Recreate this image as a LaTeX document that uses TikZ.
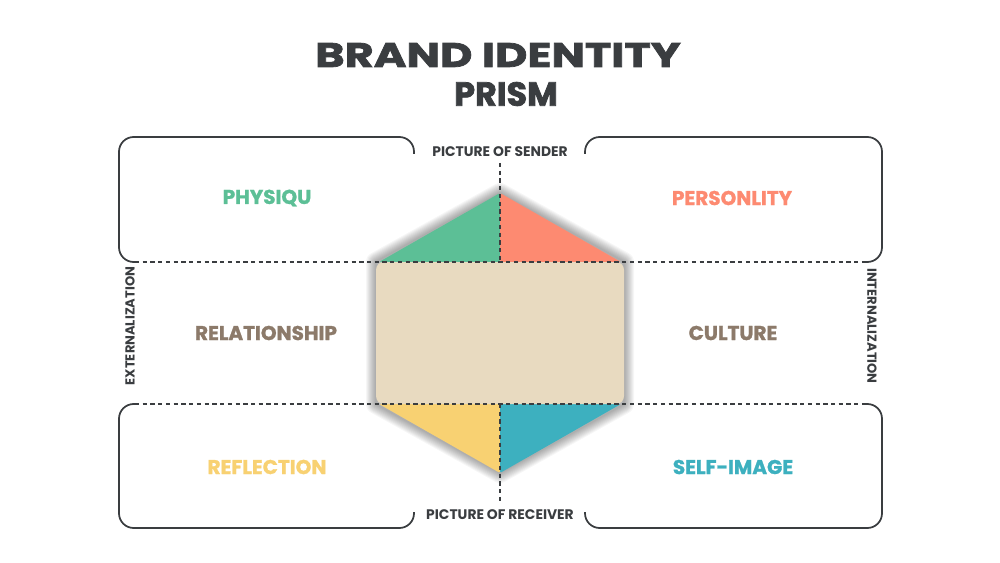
\documentclass[tikz,border=0pt]{standalone}
\usepackage{fontspec}
\setmainfont{Poppins}
\newfontfamily\titlefont{Poppins}[UprightFont=* Bold,BoldFont=* Bold,FakeBold=2.2,FakeStretch=1.31]
\newfontfamily\titlefontb{Poppins}[UprightFont=* Bold,BoldFont=* Bold,FakeBold=2.2,FakeStretch=1.0]
\newfontfamily\labfont{Poppins}[UprightFont=* Bold,BoldFont=* Bold,FakeBold=1.2]
\definecolor{ink}{HTML}{3A3D40}
\definecolor{cgreen}{HTML}{5CBF96}
\definecolor{csalmon}{HTML}{FD8A71}
\definecolor{cbeige}{HTML}{E8DAC0}
\definecolor{cyellow}{HTML}{F8D172}
\definecolor{cteal}{HTML}{3DB0BF}
\definecolor{cbrown}{HTML}{8C7A6A}
\begin{document}
\begin{tikzpicture}[x=0.75pt,y=-0.75pt,
  frame/.style={draw=ink,line width=1.3pt,rounded corners=11pt},
  dashline/.style={draw=ink,line width=0.9pt,dash pattern=on 3.2pt off 2.6pt},
  lab/.style={font=\fontsize{15}{15}\selectfont\labfont,inner sep=0pt},
  small/.style={font=\fontsize{10.4}{11}\selectfont\bfseries,text=ink,inner sep=0pt},
  side/.style={font=\fontsize{9.8}{10}\selectfont\bfseries,text=ink,inner sep=0pt},
  titletext/.style={font=\fontsize{25.5}{26}\selectfont\titlefont,text=ink,inner sep=0pt},
  titletextb/.style={font=\fontsize{25}{26}\selectfont\titlefontb,text=ink,inner sep=0pt}]
\useasboundingbox (0,0) rectangle (1000,563);
\fill[white] (0,0) rectangle (1000,563);
% title
\node[titletext] (t1) at (498,55) {BRAND IDENTITY};
\node[titletextb] (t2) at (506,94) {PRISM};
% frames
\draw[frame] (414,154) -- (414,137) -- (119,137) -- (119,262) -- (135,262);
\draw[frame] (865,262) -- (882,262) -- (882,137) -- (585,137) -- (585,154);
\draw[frame] (135,404) -- (119,404) -- (119,528) -- (414,528) -- (414,512);
\draw[frame] (585,512) -- (585,528) -- (882,528) -- (882,404) -- (865,404);
% hexagon shadow
\foreach \w in {1,2,...,10}{
  \draw[black,draw opacity=0.035,line width=\w*1.5pt,line join=round]
    (500,193) -- (624,262) -- (624,404) -- (500,473) -- (376,404) -- (376,262) -- cycle;
}
% hexagon pieces
\fill[cgreen,rounded corners=1.5pt] (500,193) -- (379,262) -- (500,262) -- cycle;
\fill[csalmon,rounded corners=1.5pt] (500,193) -- (621,262) -- (500,262) -- cycle;
\fill[cyellow,rounded corners=1.5pt] (500,473) -- (379,404) -- (500,404) -- cycle;
\fill[cteal,rounded corners=1.5pt] (500,473) -- (621,404) -- (500,404) -- cycle;
\fill[cbeige,rounded corners=6pt] (376,262) rectangle (624,404);
% labels for axes
\node[small] (sender) at (500,152) {PICTURE OF SENDER};
\node[small] (receiver) at (500,515) {PICTURE OF RECEIVER};
\node[side,rotate=90] (ext) at (130,326) {EXTERNALIZATION};
\node[side,rotate=-90] (int) at (872,326) {INTERNALIZATION};
% dashed guide lines
\coordinate (hl1) at (135,262); \coordinate (hr1) at (865,262);
\coordinate (hl2) at (135,404); \coordinate (hr2) at (865,404);
\coordinate (vt) at (500,163); \coordinate (vm1) at (500,262);
\coordinate (vm2) at (500,404); \coordinate (vb) at (500,504);
\draw[dashline] (hl1) -- (hr1);
\draw[dashline] (hl2) -- (hr2);
\draw[dashline] (vt) -- (vm1);
\draw[dashline] (vm2) -- (vb);
% labels
\node[lab,text=cgreen] (physiqu) at (267,198) {PHYSIQU};
\node[lab,text=csalmon] (person) at (732,198) {PERSONLITY};
\node[lab,text=cbrown] (relation) at (266,333) {RELATIONSHIP};
\node[lab,text=cbrown] (culture) at (733,333) {CULTURE};
\node[lab,text=cyellow] (reflect) at (267,467) {REFLECTION};
\node[lab,text=cteal] (selfimg) at (733,467) {SELF-IMAGE};
\end{tikzpicture}
\end{document}
